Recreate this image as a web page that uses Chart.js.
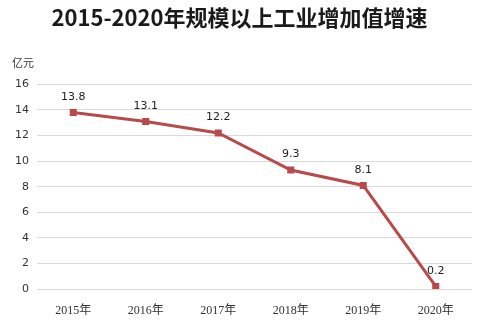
<!DOCTYPE html>
<html>
<head>
<meta charset="utf-8">
<script src="https://cdn.jsdelivr.net/npm/chart.js@4"></script>
<style>
  html, body { margin: 0; padding: 0; background: #fff; }
  #wrap { width: 480px; height: 324px; }
</style>
</head>
<body>
<div id="wrap"><canvas id="lineChart" width="480" height="324"></canvas></div>
<script>
// 数据
const years = ['2015年', '2016年', '2017年', '2018年', '2019年', '2020年'];
const growth = [13.8, 13.1, 12.2, 9.3, 8.1, 0.2];
const yTicks = [0, 2, 4, 6, 8, 10, 12, 14, 16];

const lineColor = '#b94a4b';
const sansCJK = '"Noto Sans CJK SC", "Noto Sans", sans-serif';
const serifCJK = '"Liberation Serif", "Noto Sans CJK SC", serif';

// 数值标签 + 单位
const labelPlugin = {
    id: 'labels',
    afterDatasetsDraw(chart) {
        const ctx = chart.ctx;
        const meta = chart.getDatasetMeta(0);
        ctx.save();
        ctx.font = '11px "DejaVu Sans", sans-serif';
        ctx.fillStyle = '#222';
        ctx.textAlign = 'center';
        ctx.textBaseline = 'bottom';
        meta.data.forEach((pt, i) => {
            ctx.fillText(growth[i].toFixed(1), pt.x, pt.y - 10);
        });
        ctx.font = '11px ' + sansCJK;
        ctx.fillStyle = '#333';
        ctx.textAlign = 'left';
        ctx.textBaseline = 'middle';
        ctx.fillText('亿元', 12, chart.chartArea.top - 22);
        ctx.restore();
    }
};

const lineConfig = {
    type: 'line',
    data: {
        labels: years,
        datasets: [{
            data: growth,
            borderColor: lineColor,
            backgroundColor: lineColor,
            borderWidth: 3,
            pointStyle: 'rect',
            pointRadius: 5,
            pointBorderWidth: 0,
            tension: 0,
            fill: false
        }]
    },
    options: {
        responsive: false,
        animation: false,
        layout: { padding: { left: 7, right: 8, top: 0, bottom: 0 } },
        plugins: {
            legend: { display: false },
            tooltip: { enabled: false },
            title: {
                display: true,
                text: '2015-2020年规模以上工业增加值增速',
                color: '#1a1a1a',
                font: { family: sansCJK, size: 22, weight: 'bold' },
                padding: { top: 4, bottom: 54 }
            }
        },
        scales: {
            x: {
                offset: true,
                afterFit(axis) { axis.height = 35; },
                grid: { display: false, drawTicks: false },
                border: { display: false },
                ticks: {
                    color: '#333',
                    padding: 15,
                    font: { family: serifCJK, size: 12 }
                }
            },
            y: {
                min: 0,
                max: 16,
                afterBuildTicks(axis) {
                    axis.ticks = yTicks.map(v => ({ value: v }));
                },
                grid: { color: '#d9d9d9', drawTicks: false },
                border: { display: false },
                ticks: {
                    color: '#333',
                    padding: 8,
                    font: { family: '"DejaVu Sans", sans-serif', size: 11 }
                }
            }
        }
    },
    plugins: [labelPlugin]
};

const lineChart = new Chart(document.getElementById('lineChart'), lineConfig);
</script>
</body>
</html>
